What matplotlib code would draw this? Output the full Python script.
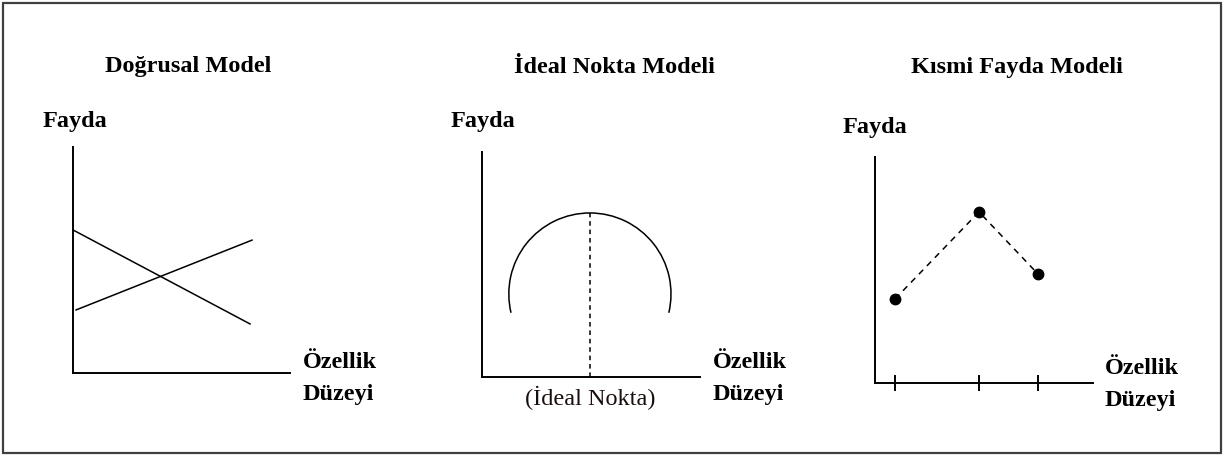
import matplotlib
matplotlib.use("Agg")
import matplotlib.pyplot as plt
from matplotlib.patches import Arc, Rectangle
from matplotlib.transforms import blended_transform_factory

W, H = 1223, 455

# panel 1: linear model (two straight utility lines)
lin_desc_x = [0.0, 8.16]
lin_desc_y = [6.33, 2.17]
lin_asc_x = [0.14, 8.25]
lin_asc_y = [2.79, 5.88]

# panel 2: ideal point model
ideal_x = 4.95
ideal_center_y = 3.69
ideal_rx = 3.72
ideal_ry = 3.60
ideal_theta = (-13, 193)

# panel 3: part-worth model
part_x = [0.92, 4.77, 7.48]
part_y = [3.72, 7.57, 4.82]

titles = ["Doğrusal Model", "İdeal Nokta Modeli", "Kısmi Fayda Modeli"]
y_label = "Fayda"
x_label = ["Özellik", "Düzeyi"]
ideal_label = "(İdeal Nokta)"

plt.rcParams['font.family'] = ['Liberation Serif', 'DejaVu Serif']

fig = plt.figure(figsize=(W / 100, H / 100), dpi=100)
FS = 17.5


def px(x, y):
    return x / W, 1 - y / H


def make_axes(left, top, right, bottom):
    ax = fig.add_axes([left / W, 1 - bottom / H, (right - left) / W, (bottom - top) / H])
    ax.set_xlim(0, 10)
    ax.set_ylim(0, 10)
    ax.spines['top'].set_visible(False)
    ax.spines['right'].set_visible(False)
    for s in ['left', 'bottom']:
        ax.spines[s].set_linewidth(1.4)
    ax.set_xticks([])
    ax.set_yticks([])
    ax.patch.set_alpha(0)
    return ax


ax1 = make_axes(73, 147, 290, 373)
ax2 = make_axes(482, 152, 700, 377)
ax3 = make_axes(875, 157, 1093, 383)

# panel 1
ax1.plot(lin_desc_x, lin_desc_y, color='black', lw=1.1, clip_on=False)
ax1.plot(lin_asc_x, lin_asc_y, color='black', lw=1.1, clip_on=False)

# panel 2
arc = Arc((ideal_x, ideal_center_y), 2 * ideal_rx, 2 * ideal_ry,
          theta1=ideal_theta[0], theta2=ideal_theta[1], color='black', lw=1.1)
ax2.add_patch(arc)
ax2.plot([ideal_x, ideal_x], [0, ideal_center_y + ideal_ry], color='black',
         lw=1.1, linestyle=(0, (3, 2.5)))
tr = blended_transform_factory(ax2.transData, fig.transFigure)
ax2.text(ideal_x, 1 - 405 / H, ideal_label, transform=tr, ha='center',
         va='baseline', fontsize=FS, color='#1a0d0d')

# panel 3
ax3.plot(part_x, part_y, color='black', lw=1.1, linestyle=(0, (4, 3.5)),
         marker='o', markersize=7.5, clip_on=False)
ax3.set_xticks(part_x)
ax3.set_xticklabels([])
ax3.tick_params(axis='x', direction='inout', length=11, width=1.4)

# text
title_pos = [(188, 72), (614, 73), (1017, 73)]
fayda_pos = [(43, 127), (451, 127), (843, 133)]
ozellik_pos = [(303, 368, 400), (713, 368, 400), (1105, 374, 406)]

for t, (x, y) in zip(titles, title_pos):
    fig.text(*px(x, y), t, ha='center', va='baseline', fontsize=FS, fontweight='bold')
for x, y in fayda_pos:
    fig.text(*px(x, y), y_label, ha='left', va='baseline', fontsize=FS, fontweight='bold')
for x, y1, y2 in ozellik_pos:
    fig.text(*px(x, y1), x_label[0], ha='left', va='baseline', fontsize=FS, fontweight='bold')
    fig.text(*px(x, y2), x_label[1], ha='left', va='baseline', fontsize=FS, fontweight='bold')

# outer frame
fig.patches.append(Rectangle(px(3, 453), (1221 - 3) / W, (453 - 3) / H,
                             transform=fig.transFigure, fill=False,
                             edgecolor='#404040', lw=1.6))

fig.savefig("out.png", dpi=100)
